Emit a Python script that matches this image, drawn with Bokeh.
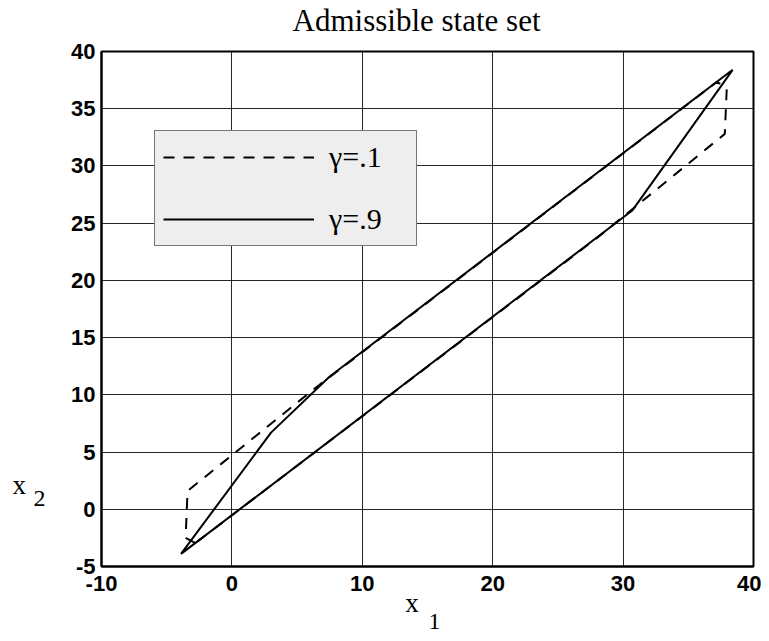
from bokeh.plotting import figure
from bokeh.models import Range1d, FixedTicker, Legend, LegendItem, Label
from bokeh.embed import file_html
from bokeh.resources import INLINE

# ---- data ----
# admissible state set for gamma = .1 (dashed)
x_g1 = [-2.8, -3.55, -3.4, 6.4, 37.2, 37.95, 37.8, 28.1, -2.8]
y_g1 = [-2.95, -2.5, 1.6, 10.6, 37.35, 36.8, 32.8, 23.8, -2.95]
# admissible state set for gamma = .9 (solid)
x_g9 = [-3.9, 3.0, 7.5, 38.4, 30.7, -3.9]
y_g9 = [-3.9, 6.7, 11.6, 38.4, 26.1, -3.9]

x_ticks = [-10, 0, 10, 20, 30, 40]
y_ticks = [-5, 0, 5, 10, 15, 20, 25, 30, 35, 40]
legend_labels = ["γ=.1", "γ=.9"]
title_text = "Admissible state set"

SERIF = "Liberation Serif"
SANS = "Liberation Sans"

p = figure(frame_width=652, frame_height=515,
           min_border_left=101, min_border_right=8,
           min_border_top=51, min_border_bottom=74,
           x_range=Range1d(-10, 40), y_range=Range1d(-5, 40),
           output_backend="svg", toolbar_location=None)

p.background_fill_color = "white"
p.border_fill_color = "white"
p.outline_line_color = "black"
p.outline_line_width = 2
p.title.standoff = 0

p.xaxis.ticker = FixedTicker(ticks=x_ticks)
p.yaxis.ticker = FixedTicker(ticks=y_ticks)
p.xaxis.major_label_overrides = {t: str(t) for t in x_ticks}
p.yaxis.major_label_overrides = {t: str(t) for t in y_ticks}
for ax in p.axis:
    ax.major_tick_in = 0
    ax.major_tick_out = 0
    ax.minor_tick_in = 0
    ax.minor_tick_out = 0
    ax.axis_line_width = 2
    ax.axis_line_color = "black"
    ax.major_label_text_font = SANS
    ax.major_label_text_font_size = "22px"
    ax.major_label_text_font_style = "bold"
    ax.major_label_text_color = "black"
p.xaxis.major_label_standoff = 9
p.yaxis.major_label_standoff = 6

p.grid.grid_line_color = "black"
p.grid.grid_line_width = 1
p.grid.grid_line_alpha = 0.85

r1 = p.line(x_g1, y_g1, line_color="black", line_width=2, line_dash="11 9")
r9 = p.line(x_g9, y_g9, line_color="black", line_width=2)

legend = Legend(items=[LegendItem(label=legend_labels[0], renderers=[r1]),
                       LegendItem(label=legend_labels[1], renderers=[r9])],
                location=(53, 320), orientation="vertical",
                label_text_font=SERIF, label_text_font_size="30px",
                label_text_color="black",
                glyph_width=151, glyph_height=36, label_height=36,
                label_width=79, label_standoff=15, padding=8, spacing=26,
                margin=0,
                background_fill_color="#eeeeee", background_fill_alpha=1,
                border_line_color="black", border_line_width=1)
p.add_layout(legend)

# title, placed in the panel above the frame
p.add_layout(Label(x=14.16, y=42.72, text=title_text, text_font=SERIF,
                   text_font_size="31px", text_color="black",
                   text_baseline="alphabetic", text_align="center"), "above")

# axis labels (x with subscript), placed as in the reference; put in a side
# panel so that they are not clipped to the plotting frame
lab_specs = [
    (13.3, -8.15, "x", "27px"),
    (15.08, -9.8, "1", "24px"),
    (-16.82, 2.08, "x", "27px"),
    (-15.21, 0.94, "2", "24px"),
]
for lx, ly, lt, ls in lab_specs:
    p.add_layout(Label(x=lx, y=ly, text=lt, text_font=SERIF, text_font_size=ls,
                       text_color="black",
                       text_baseline="alphabetic", text_align="left"), "left")

open("out.html", "w").write(file_html(p, INLINE))
